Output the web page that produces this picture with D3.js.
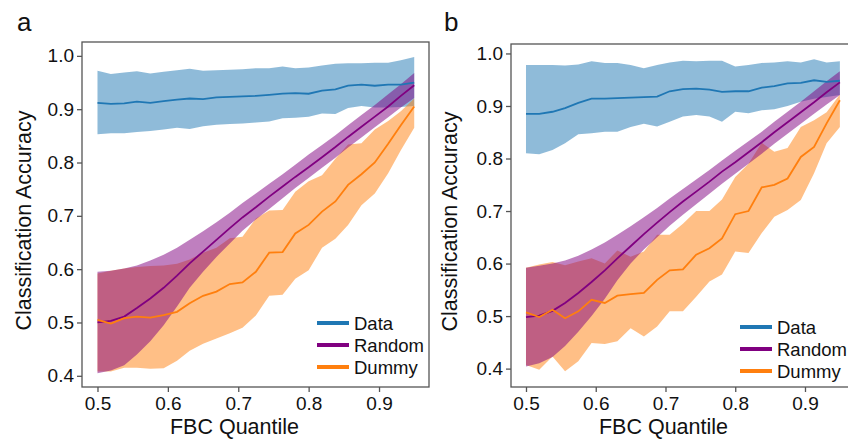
<!DOCTYPE html>
<html lang="en">
<head>
<meta charset="UTF-8">
<title>Classification Accuracy vs FBC Quantile</title>
<script src="https://d3js.org/d3.v7.min.js"></script>
<style>
  body { margin: 0; background: #fff; font-family: "Liberation Sans", Arial, sans-serif; }
  svg { display: block; }
</style>
</head>
<body>
<div id="chart"></div>
<script>
// x positions shared by every series
const quantiles = [0.5, 0.519, 0.538, 0.556, 0.575, 0.594, 0.613, 0.631, 0.65, 0.669, 0.688, 0.706, 0.725,
                   0.744, 0.763, 0.781, 0.8, 0.819, 0.838, 0.856, 0.875, 0.894, 0.913, 0.931, 0.95];

// panel a
const dataMeanA = [0.912, 0.910, 0.911, 0.914, 0.912, 0.915, 0.918, 0.920, 0.919, 0.922, 0.923, 0.924, 0.925,
                   0.927, 0.929, 0.930, 0.929, 0.935, 0.937, 0.944, 0.946, 0.944, 0.946, 0.946, 0.950];
const dataLowA = [0.853, 0.855, 0.855, 0.857, 0.859, 0.862, 0.865, 0.863, 0.868, 0.871, 0.872, 0.873, 0.875,
                  0.877, 0.883, 0.884, 0.886, 0.892, 0.891, 0.902, 0.906, 0.903, 0.903, 0.904, 0.906];
const dataHighA = [0.972, 0.966, 0.969, 0.971, 0.967, 0.970, 0.973, 0.976, 0.972, 0.973, 0.974, 0.975, 0.977,
                   0.977, 0.980, 0.977, 0.978, 0.982, 0.985, 0.986, 0.986, 0.987, 0.987, 0.992, 0.998];
const randomMeanA = [0.500, 0.503, 0.511, 0.527, 0.545, 0.565, 0.588, 0.611, 0.633, 0.655, 0.677, 0.697, 0.716,
                     0.736, 0.755, 0.773, 0.791, 0.810, 0.829, 0.848, 0.867, 0.886, 0.905, 0.925, 0.945];
const randomLowA = [0.405, 0.410, 0.420, 0.440, 0.465, 0.495, 0.530, 0.565, 0.595, 0.623, 0.648, 0.672, 0.693,
                    0.713, 0.733, 0.752, 0.771, 0.790, 0.809, 0.828, 0.847, 0.866, 0.885, 0.903, 0.921];
const randomHighA = [0.595, 0.597, 0.601, 0.607, 0.616, 0.627, 0.640, 0.655, 0.671, 0.688, 0.706, 0.724, 0.742,
                     0.760, 0.778, 0.796, 0.815, 0.833, 0.851, 0.870, 0.889, 0.908, 0.928, 0.947, 0.968];
const dummyMeanA = [0.505, 0.498, 0.508, 0.511, 0.509, 0.514, 0.520, 0.536, 0.550, 0.558, 0.572, 0.575, 0.595,
                    0.631, 0.632, 0.667, 0.683, 0.708, 0.727, 0.758, 0.778, 0.800, 0.835, 0.870, 0.905];
const dummyLowA = [0.408, 0.408, 0.415, 0.415, 0.413, 0.414, 0.428, 0.447, 0.460, 0.470, 0.480, 0.490, 0.513,
                   0.550, 0.552, 0.582, 0.598, 0.640, 0.657, 0.683, 0.720, 0.742, 0.780, 0.823, 0.865];
const dummyHighA = [0.592, 0.597, 0.601, 0.604, 0.606, 0.607, 0.610, 0.618, 0.631, 0.640, 0.658, 0.661, 0.695,
                    0.710, 0.711, 0.745, 0.765, 0.776, 0.807, 0.834, 0.836, 0.862, 0.878, 0.896, 0.920];

// panel b
const dataMeanB = [0.885, 0.885, 0.889, 0.896, 0.906, 0.914, 0.914, 0.915, 0.916, 0.917, 0.918, 0.928, 0.932,
                   0.933, 0.931, 0.927, 0.928, 0.928, 0.935, 0.938, 0.943, 0.944, 0.949, 0.946, 0.948];
const dataLowB = [0.810, 0.808, 0.816, 0.829, 0.846, 0.848, 0.851, 0.851, 0.860, 0.866, 0.861, 0.870, 0.880,
                  0.883, 0.880, 0.870, 0.889, 0.886, 0.892, 0.894, 0.900, 0.908, 0.914, 0.917, 0.921];
const dataHighB = [0.978, 0.978, 0.978, 0.977, 0.979, 0.985, 0.982, 0.982, 0.978, 0.972, 0.978, 0.983, 0.986,
                   0.985, 0.986, 0.986, 0.975, 0.978, 0.982, 0.983, 0.985, 0.983, 0.989, 0.983, 0.985];
const randomMeanB = [0.498, 0.501, 0.510, 0.525, 0.544, 0.565, 0.587, 0.610, 0.633, 0.656, 0.678, 0.698, 0.718,
                     0.737, 0.756, 0.775, 0.793, 0.812, 0.831, 0.850, 0.869, 0.888, 0.907, 0.926, 0.945];
const randomLowB = [0.404, 0.410, 0.422, 0.443, 0.470, 0.500, 0.533, 0.568, 0.600, 0.627, 0.650, 0.672, 0.693,
                    0.713, 0.733, 0.752, 0.771, 0.790, 0.809, 0.828, 0.847, 0.866, 0.885, 0.903, 0.921];
const randomHighB = [0.592, 0.596, 0.600, 0.606, 0.615, 0.627, 0.640, 0.655, 0.671, 0.688, 0.706, 0.724, 0.742,
                     0.760, 0.778, 0.796, 0.815, 0.833, 0.851, 0.870, 0.889, 0.908, 0.928, 0.947, 0.966];
const dummyMeanB = [0.507, 0.498, 0.512, 0.496, 0.509, 0.531, 0.525, 0.539, 0.542, 0.544, 0.569, 0.587, 0.589,
                    0.617, 0.629, 0.648, 0.694, 0.700, 0.745, 0.750, 0.762, 0.803, 0.822, 0.867, 0.911];
const dummyLowB = [0.407, 0.398, 0.423, 0.395, 0.414, 0.449, 0.447, 0.452, 0.477, 0.461, 0.480, 0.509, 0.509,
                   0.537, 0.566, 0.579, 0.623, 0.620, 0.658, 0.689, 0.702, 0.721, 0.772, 0.829, 0.860];
const dummyHighB = [0.592, 0.598, 0.603, 0.597, 0.604, 0.610, 0.600, 0.625, 0.613, 0.623, 0.655, 0.655, 0.676,
                    0.700, 0.700, 0.722, 0.765, 0.790, 0.830, 0.813, 0.820, 0.860, 0.873, 0.888, 0.922];

const xTicks = [0.5, 0.6, 0.7, 0.8, 0.9];
const yTicks = [0.4, 0.5, 0.6, 0.7, 0.8, 0.9, 1.0];
const seriesNames = ["Data", "Random", "Dummy"];
const seriesColors = ["#1f77b4", "#800080", "#ff7f0e"];

const width = 848, height = 440;

const panels = [
  {
    label: "a", labelX: 17,
    left: 82, right: 429, top: 42, bottom: 387,
    xDomain: [0.478, 0.971], yDomain: [0.379, 1.026],
    yTitleX: 31,
    legendX: 317, legendY: 323,
    series: [
      [dataMeanA, dataLowA, dataHighA],
      [randomMeanA, randomLowA, randomHighA],
      [dummyMeanA, dummyLowA, dummyHighA]
    ]
  },
  {
    label: "b", labelX: 444,
    left: 511, right: 858, top: 44, bottom: 387,
    xDomain: [0.4785, 0.976], yDomain: [0.365, 1.018],
    yTitleX: 457,
    legendX: 740, legendY: 327,
    series: [
      [dataMeanB, dataLowB, dataHighB],
      [randomMeanB, randomLowB, randomHighB],
      [dummyMeanB, dummyLowB, dummyHighB]
    ]
  }
];

const svg = d3.select("#chart").append("svg")
  .attr("width", width)
  .attr("height", height);

// bands: data, dummy, then random on top (gives the dark overlap)
const bandOrder = [0, 2, 1];
const lineOrder = [0, 1, 2];

panels.forEach(p => {
  const x = d3.scaleLinear().domain(p.xDomain).range([p.left, p.right]);
  const y = d3.scaleLinear().domain(p.yDomain).range([p.bottom, p.top]);
  const g = svg.append("g");

  const area = (lo, hi) => d3.area()
    .x((d, i) => x(quantiles[i]))
    .y0((d, i) => y(lo[i]))
    .y1((d, i) => y(hi[i]))(quantiles);
  const line = vals => d3.line()
    .x((d, i) => x(quantiles[i]))
    .y(d => y(d))(vals);

  bandOrder.forEach(k => {
    const [, lo, hi] = p.series[k];
    g.append("path")
      .attr("d", area(lo, hi))
      .attr("fill", seriesColors[k])
      .attr("fill-opacity", 0.5);
  });

  lineOrder.forEach(k => {
    g.append("path")
      .attr("d", line(p.series[k][0]))
      .attr("fill", "none")
      .attr("stroke", seriesColors[k])
      .attr("stroke-width", 1.8);
  });

  // frame
  g.append("rect")
    .attr("x", p.left).attr("y", p.top)
    .attr("width", p.right - p.left).attr("height", p.bottom - p.top)
    .attr("fill", "none")
    .attr("stroke", "#555")
    .attr("stroke-width", 1.3);

  const xAxis = g.append("g")
    .attr("transform", `translate(0,${p.bottom})`)
    .call(d3.axisBottom(x).tickValues(xTicks).tickFormat(d3.format(".1f")).tickSize(5).tickPadding(5));
  const yAxis = g.append("g")
    .attr("transform", `translate(${p.left},0)`)
    .call(d3.axisLeft(y).tickValues(yTicks).tickFormat(d3.format(".1f")).tickSize(5).tickPadding(3));
  [xAxis, yAxis].forEach(a => {
    a.select(".domain").remove();
    a.selectAll(".tick line").attr("stroke", "#555").attr("stroke-width", 1.3);
    a.selectAll(".tick text")
      .attr("fill", "#111")
      .style("font-family", "'Liberation Sans', Arial, sans-serif")
      .style("font-size", "19px");
  });

  // axis titles
  g.append("text")
    .attr("x", (p.left + p.right) / 2 - 21)
    .attr("y", 434)
    .attr("text-anchor", "middle")
    .style("font-size", "21.5px")
    .attr("fill", "#111")
    .text("FBC Quantile");

  g.append("text")
    .attr("transform", `translate(${p.yTitleX},${(p.top + p.bottom) / 2 + 6}) rotate(-90)`)
    .attr("text-anchor", "middle")
    .style("font-size", "21.5px")
    .attr("fill", "#111")
    .text("Classification Accuracy");

  // panel letter
  g.append("text")
    .attr("x", p.labelX).attr("y", 31)
    .style("font-size", "26px")
    .attr("fill", "#111")
    .text(p.label);

  // legend
  seriesNames.forEach((name, k) => {
    const ly = p.legendY + k * 22;
    g.append("line")
      .attr("x1", p.legendX).attr("x2", p.legendX + 32)
      .attr("y1", ly).attr("y2", ly)
      .attr("stroke", seriesColors[k])
      .attr("stroke-width", 4);
    g.append("text")
      .attr("x", p.legendX + 37).attr("y", ly)
      .attr("dy", "0.36em")
      .style("font-size", "18.5px")
      .attr("fill", "#111")
      .text(name);
  });
});
</script>
</body>
</html>
